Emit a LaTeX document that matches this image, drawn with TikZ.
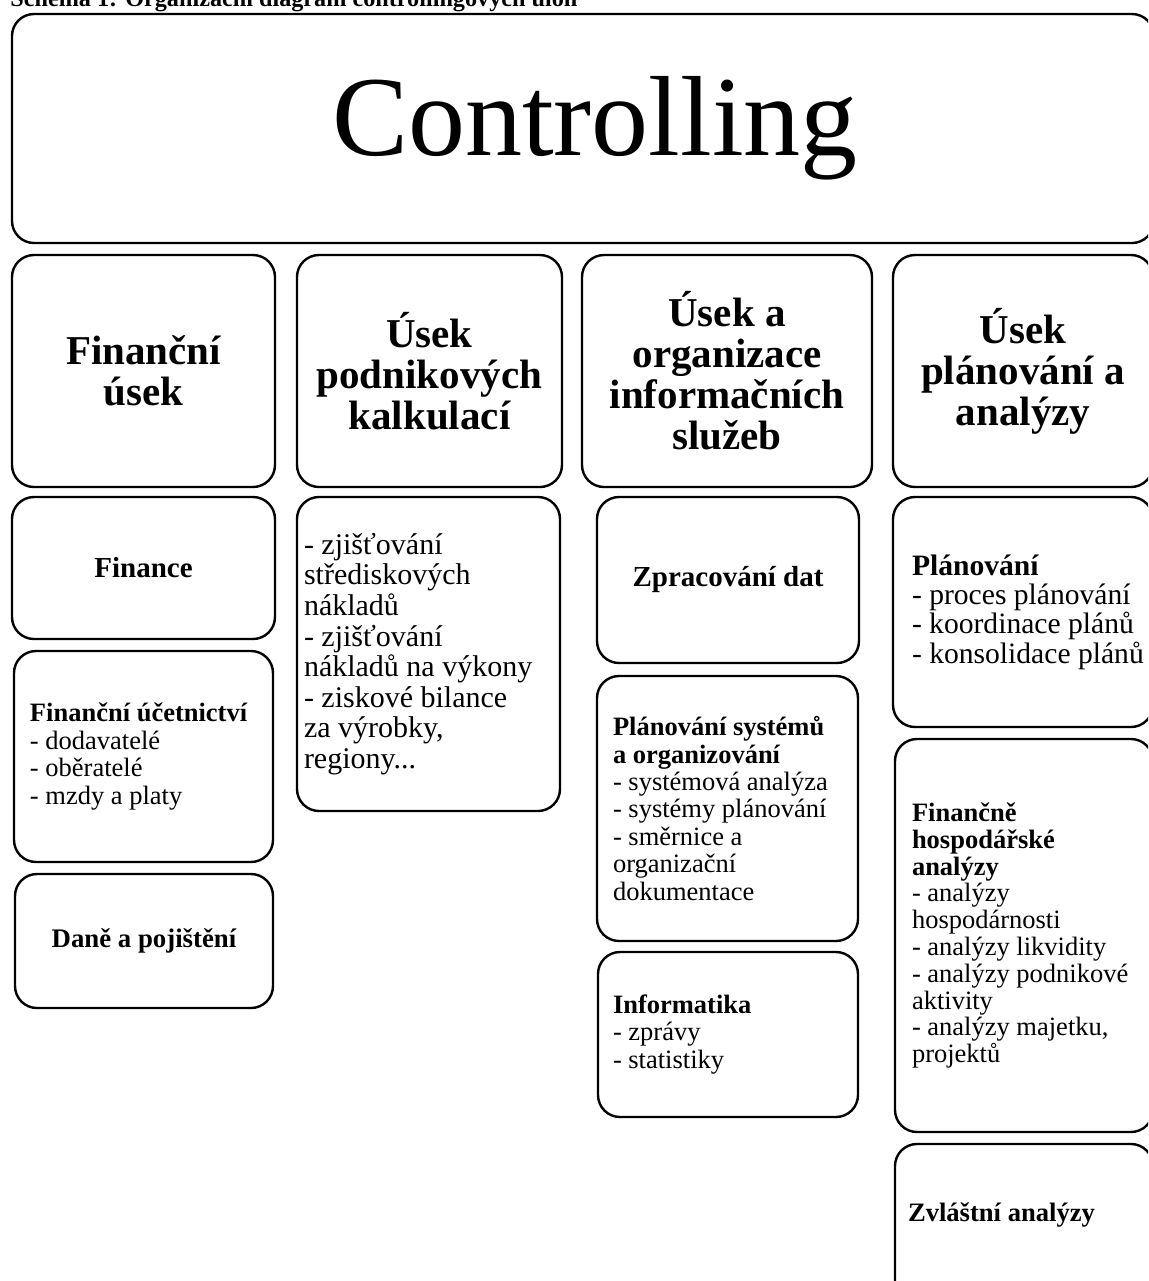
\documentclass[tikz,border=0pt]{standalone}
\usepackage{fontspec}
\setmainfont{Liberation Serif}
\tikzset{
  box/.style={draw, line width=1.2pt, rounded corners=11pt, inner sep=0pt, outer sep=0pt}
}
\newcommand{\mybox}[9][box]{%
  \pgfmathsetmacro{\bw}{(#4-#2)*0.5}%
  \pgfmathsetmacro{\bh}{(#5-#3)*0.5}%
  \pgfmathsetmacro{\pw}{(#4-#2-#6)*0.5}%
  \pgfmathsetmacro{\pd}{#6*0.5}%
  \node[#1, minimum width=\bw pt, minimum height=\bh pt] (#7) at ({(#2+#4)/2},{(#3+#5)/2})
    {\makebox[\bw pt][l]{\hspace*{\pd pt}\parbox[c]{\pw pt}{#8\lineskiplimit=-50pt\lineskip=0pt #9}}};
}
\begin{document}
\begin{tikzpicture}[x=0.5pt,y=-0.5pt]
\useasboundingbox (0,0) rectangle (1148,1281);
\clip (0,0) rectangle (1148,1281);
\node[anchor=base west, inner sep=0pt, font=\fontsize{12.1}{14}\selectfont\bfseries] (title) at (10,6) {Schéma 1: Organizační diagram controllingových úloh};
% top box
\mybox[box, rounded corners=11pt]{12}{14}{1154}{243}{24}{ctrl}{\centering\fontsize{57}{60}\selectfont}{Controlling}
% headers
\mybox{12}{255}{275}{487}{0}{h1}{\centering\fontsize{20.5}{20.5}\selectfont\bfseries}{Finanční\\úsek}
\mybox{297}{255}{562}{487}{0}{h2}{\centering\fontsize{20.5}{20.5}\selectfont\bfseries}{Úsek\\podnikových\\kalkulací}
\mybox{582}{255}{872}{487}{0}{h3}{\centering\fontsize{20.5}{20.5}\selectfont\bfseries}{Úsek a\\organizace\\informačních\\služeb}
\mybox{893}{255}{1153}{487}{0}{h4}{\centering\fontsize{20.5}{20.5}\selectfont\bfseries}{Úsek\\plánování a\\analýzy}
% column 1
\mybox{12}{497}{275}{639}{0}{fin}{\centering\fontsize{14.5}{16}\selectfont\bfseries}{Finance}
\mybox{14}{651}{273}{862}{16}{fu}{\raggedright\fontsize{13.25}{13.75}\selectfont}{\textbf{Finanční účetnictví}\\- dodavatelé\\- oběratelé\\- mzdy a platy}
\mybox{15}{874}{273}{1008}{0}{dane}{\centering\fontsize{13.4}{14}\selectfont\bfseries}{Daně a pojištění}
% column 2
\mybox{297}{497}{560}{811}{7}{kalk}{\raggedright\fontsize{15}{15.3}\selectfont}{- zjišťování\\střediskových\\nákladů\\- zjišťování\\nákladů na výkony\\- ziskové bilance\\za výrobky,\\regiony...}
% column 3
\mybox{597}{497}{859}{663}{0}{zpr}{\centering\fontsize{14.5}{16}\selectfont\bfseries}{Zpracování dat}
\mybox{597}{676}{858}{941}{16}{psys}{\raggedright\fontsize{13.25}{13.7}\selectfont}{\textbf{Plánování systémů}\\\textbf{a organizování}\\- systémová analýza\\- systémy plánování\\- směrnice a\\organizační\\dokumentace}
\mybox{598}{952}{858}{1117}{15}{inf}{\raggedright\fontsize{13.25}{13.7}\selectfont}{\textbf{Informatika}\\- zprávy\\- statistiky}
% column 4
\mybox{893}{497}{1153}{727}{19}{plan}{\raggedright\fontsize{14.8}{14.7}\selectfont}{\textbf{Plánování}\\- proces plánování\\- koordinace plánů\\- konsolidace plánů}
\mybox{895}{739}{1153}{1132}{17}{fha}{\raggedright\fontsize{13.25}{13.4}\selectfont}{\textbf{Finančně}\\\textbf{hospodářské}\\\textbf{analýzy}\\- analýzy\\hospodárnosti\\- analýzy likvidity\\- analýzy podnikové\\aktivity\\- analýzy majetku,\\projektů}
\mybox{895}{1144}{1153}{1330}{13}{zvl}{\raggedright\fontsize{13.3}{14}\selectfont\bfseries}{\raisebox{11pt}[\height][\depth]{Zvláštní analýzy}}
\end{tikzpicture}
\end{document}
